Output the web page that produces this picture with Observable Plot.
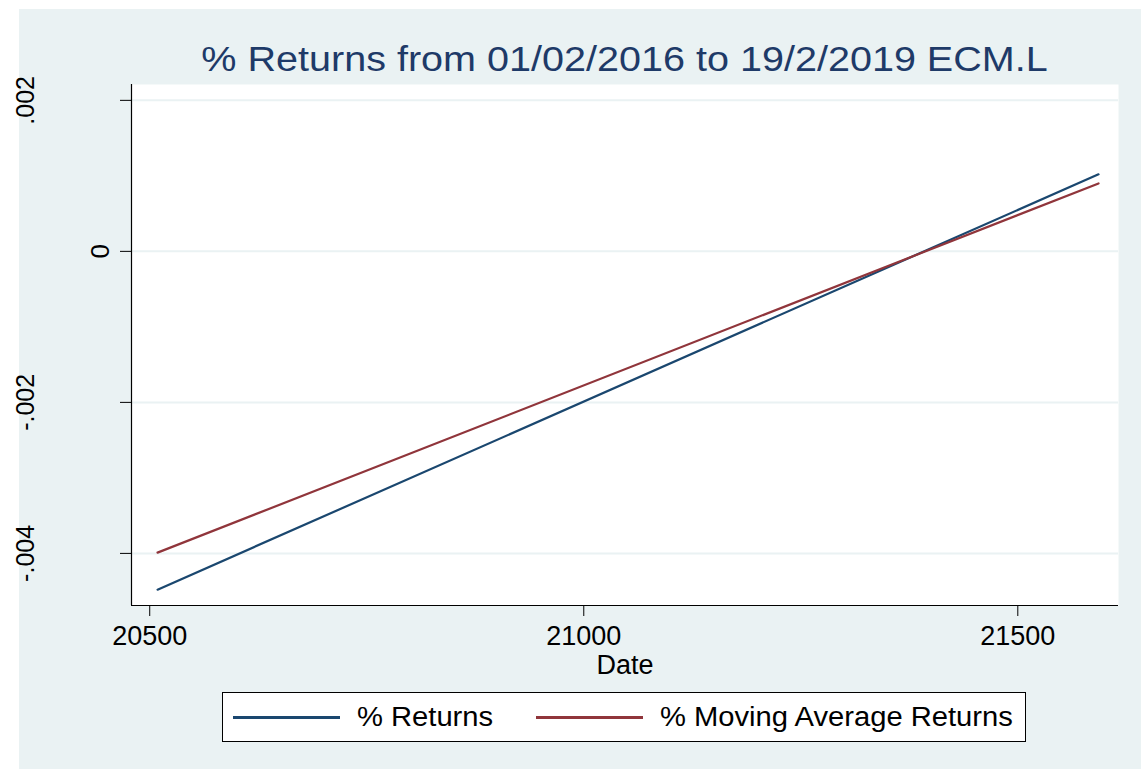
<!DOCTYPE html>
<html>
<head>
<meta charset="utf-8">
<script src="https://cdn.jsdelivr.net/npm/d3@7"></script>
<script src="https://cdn.jsdelivr.net/npm/@observablehq/plot@0.6"></script>
<style>
  html, body { margin: 0; padding: 0; background: #ffffff; }
  body { width: 1141px; height: 769px; position: relative; overflow: hidden; font-family: "Liberation Sans", Arial, sans-serif; }
  #bg { position: absolute; left: 19px; top: 9px; width: 1122px; height: 760px; background: #eaf2f3; }
  #title { position: absolute; left: 131px; width: 987px; top: 39px; text-align: center; font-size: 35px; line-height: 40px; color: #1e3a68; white-space: nowrap; }
  #title span { display: inline-block; transform: scaleX(1.13); transform-origin: center; }
  #chart { position: absolute; left: 0; top: 60px; }
  #legend { position: absolute; left: 222px; top: 692px; width: 802px; height: 48px; background: #fff; border: 1px solid #000; font-size: 27px; color: #000; }
  .sw { position: absolute; top: 23px; height: 3px; }
  .lab { position: absolute; top: 9px; line-height: 30px; white-space: nowrap; transform: scaleX(1.08); transform-origin: left center; }
</style>
</head>
<body>
<div id="bg"></div>
<div id="title"><span>% Returns from 01/02/2016 to 19/2/2019 ECM.L</span></div>
<div id="chart"></div>
<div id="legend"></div>
<script>
// Data
const dates = [20509, 21593];
const returns = [-0.00448, 0.00102];
const maReturns = [-0.00399, 0.00090];
const seriesNames = ["% Returns", "% Moving Average Returns"];
const seriesColors = ["#1a476f", "#90353b"];
const xTicks = [20500, 21000, 21500];
const yTicks = [0.002, 0, -0.002, -0.004];
const xDomain = [20479, 21616];
const yDomain = [-0.00469, 0.00221];

const rows = [];
dates.forEach((d, i) => {
  rows.push({date: d, value: returns[i], series: seriesNames[0]});
  rows.push({date: d, value: maReturns[i], series: seriesNames[1]});
});

const yFmt = d => d === 0 ? "0" : d.toFixed(3).replace(/^(-?)0\./, "$1.");

const chart = Plot.plot({
  width: 1141,
  height: 620,
  marginLeft: 131,
  marginRight: 23,
  marginTop: 24,
  marginBottom: 75,
  style: {background: "transparent", fontFamily: "Liberation Sans, Arial, sans-serif", color: "#000"},
  x: {domain: xDomain},
  y: {domain: yDomain},
  color: {domain: seriesNames, range: seriesColors},
  marks: [
    Plot.frame({fill: "#ffffff", stroke: null}),
    Plot.ruleY(yTicks, {stroke: "#eaf2f3", strokeWidth: 2}),
    Plot.ruleX([xDomain[0]], {stroke: "#000", strokeWidth: 1.2}),
    Plot.ruleY([yDomain[0]], {stroke: "#000", strokeWidth: 1.2}),
    Plot.axisX({ticks: xTicks, tickFormat: d => String(d), tickSize: 11, tickPadding: 9, fontSize: 27, label: "Date", labelAnchor: "center", labelArrow: "none", labelOffset: 68, stroke: "#000"}),
    Plot.axisY({ticks: yTicks.filter(d => d !== 0), tickFormat: yFmt, tickSize: 11, tickPadding: 87, tickRotate: -90, fontSize: 25, label: null, stroke: "#000"}),
    Plot.axisY({ticks: yTicks.filter(d => d === 0), tickFormat: yFmt, tickSize: 11, tickPadding: 12, tickRotate: -90, fontSize: 26, label: null, stroke: "#000"}),
    Plot.line(rows, {x: "date", y: "value", z: "series", stroke: "series", strokeWidth: 2.2})
  ]
});
chart.querySelectorAll("text").forEach(t => t.style.fill = "#000");
document.getElementById("chart").appendChild(chart);

const legend = document.getElementById("legend");
const swLeft = [10, 313];
const swWidth = 107;
const labLeft = [134, 437];
seriesNames.forEach((name, i) => {
  const sw = document.createElement("div");
  sw.className = "sw";
  sw.style.left = swLeft[i] + "px";
  sw.style.width = swWidth + "px";
  sw.style.background = seriesColors[i];
  const lab = document.createElement("div");
  lab.className = "lab";
  lab.style.left = labLeft[i] + "px";
  lab.textContent = name;
  legend.appendChild(sw);
  legend.appendChild(lab);
});
</script>
</body>
</html>
